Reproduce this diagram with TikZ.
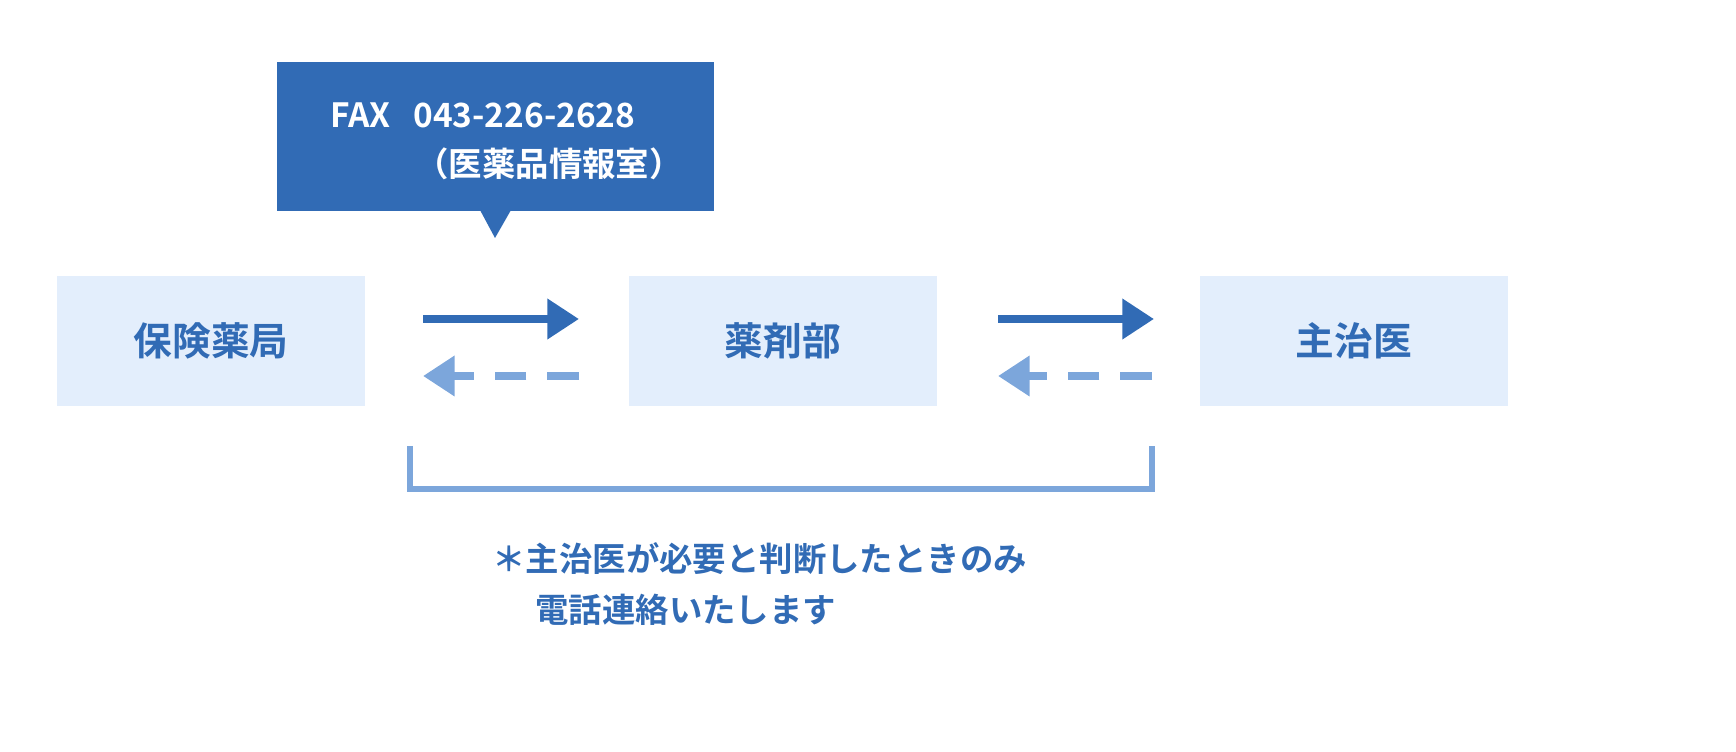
\documentclass[tikz,border=0pt]{standalone}
\usepackage{fontspec}
\setmainfont{Noto Sans CJK JP Bold}
\usetikzlibrary{positioning}
\usetikzlibrary{arrows.meta}
\definecolor{darkblue}{HTML}{316BB5}
\definecolor{paleblue}{HTML}{E3EEFC}
\definecolor{lightblue}{HTML}{7CA6DB}
\tikzset{
  place/.style={fill=paleblue, minimum width=3.07cm, minimum height=1.30cm, text=darkblue, font=\fontsize{11}{13}\selectfont},
  flow/.style={line width=2.4pt, darkblue, -{Triangle[length=9pt,width=11pt]}},
  back/.style={line width=2.4pt, lightblue, dash pattern=on 9pt off 6pt, -{Triangle[length=9pt,width=11pt]}},
}
\begin{document}
\begin{tikzpicture}[x=0.01cm,y=-0.01cm]
				\node[place] (A) at (211,341) {保険薬局};
				\node[place] (B) at (783,341) {薬剤部};
				\node[place] (C) at (1354,341) {主治医};
				
				\fill[darkblue] (277,62) rectangle (714,211);
				\fill[darkblue] (480,210) -- (495,238) -- (511,210) -- cycle;
				\node[white, font=\fontsize{9.5}{14}\selectfont, align=left, anchor=north west] (fax) at (318,90) {FAX\ \ \ 043-226-2628\\\hspace{0.85cm}（医薬品情報室）};
				
				\coordinate (a1) at (423,319); \coordinate (a2) at (579,319);
				\coordinate (a3) at (579,376); \coordinate (a4) at (423,376);
				\coordinate (b1) at (998,319); \coordinate (b2) at (1154,319);
				\coordinate (b3) at (1152,376); \coordinate (b4) at (998,376);
				\draw[flow] (a1) -- (a2);
				\draw[back] (a3) -- (a4);
				\draw[flow] (b1) -- (b2);
				\draw[back] (b3) -- (b4);
				
				\draw[lightblue, line width=1.6pt] (410,446) -- (410,489) -- (1152,489) -- (1152,446);
				\node[darkblue, font=\fontsize{9.5}{14.5}\selectfont, align=left, anchor=north west] (note) at (480,530) {＊主治医が必要と判断したときのみ\\\hspace{0.43cm}電話連絡いたします};
				\pgfresetboundingbox
				\useasboundingbox (0,0) rectangle (1736,752);
			\end{tikzpicture}
\end{document}
